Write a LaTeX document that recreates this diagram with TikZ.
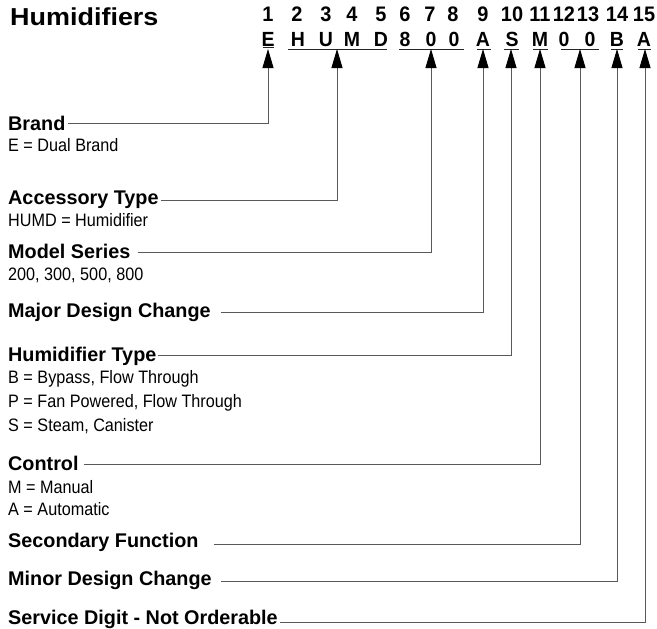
\documentclass[tikz,border=0pt]{standalone}
\usepackage{fontspec}
\setmainfont{Liberation Sans}
\newfontfamily\titlefont[FakeStretch=1.1]{Liberation Sans}
\newfontfamily\condfont[FakeStretch=0.9]{Liberation Sans}
\newfontfamily\codefont[FakeStretch=0.95]{Liberation Sans}
\usetikzlibrary{arrows.meta}

\tikzstyle{heading}=[anchor=base west,inner sep=0pt,font=\fontsize{19.8}{20}\selectfont\bfseries]
\tikzstyle{option}=[anchor=base west,inner sep=0pt,font=\fontsize{18}{18}\condfont]
\tikzstyle{digit}=[anchor=base,inner sep=0pt,font=\fontsize{21}{21}\codefont\bfseries]
\tikzstyle{code}=[anchor=base,inner sep=0pt,font=\fontsize{20.5}{21}\codefont\bfseries]
\tikzstyle{bar}=[line width=1pt,draw=black!85]
\tikzstyle{lead}=[line width=0.9pt,draw=black!65,-{Triangle[length=19pt,width=11pt,color=black]}]

\begin{document}
\begin{tikzpicture}[x=1pt,y=-1pt]
			\useasboundingbox (0,0) rectangle (657,629);
			%Title
			\node[anchor=base west,inner sep=0pt,font=\fontsize{24.5}{25}\titlefont\bfseries] (title) at (10,25) {Humidifiers};
			%Digit positions
			\foreach \x/\n in {268/1, 297/2, 326/3, 352/4, 381/5, 405/6, 430/7, 453/8,
							   483/9, 512/10, 540/11, 564/12, 588/13, 617/14, 644/15}
			\node[digit] (d\n) at (\x,21) {\n};
			%Model number
			\foreach \x/\n/\c in {268/1/E, 298/2/H, 326/3/U, 352/4/M, 381/5/D, 405/6/8, 431/7/0, 454/8/0,
								  483/9/A, 512/10/S, 540/11/M, 564/12/0, 590/13/0, 617/14/B, 644/15/A}
			\node[code] (c\n) at (\x,46) {\c};
			%Underlines and arrow tips
			\draw[bar] (263,47) -- (274,47);
			\coordinate (tbrand) at (268,49);
			\foreach \a/\b/\t/\g in {288/387/337/acc, 399/464/431/model, 477/491/483/major,
									 504/519/511/humid, 533/548/540/control, 561/599/580/second,
									 611/623/617/minor, 638/651/645/service}
			{
				\draw[bar] (\a,49) -- (\b,49);
				\coordinate (t\g) at (\t,49);
			}
			%Headings
			\foreach \y/\g/\txt in {130/brand/Brand, 204/acc/Accessory Type, 258/model/Model Series,
									317/major/Major Design Change, 361/humid/Humidifier Type,
									470/control/Control, 547/second/Secondary Function,
									585/minor/Minor Design Change, 624/service/Service Digit - Not Orderable}
			\node[heading] (\g) at (8,\y) {\txt};
			%Options
			\foreach \y/\g/\txt in {151/obrand/E = Dual Brand, 226/oacc/HUMD = Humidifier,
									280/omodel/{200, 300, 500, 800}, 383/ohumidb/{B = Bypass, Flow Through},
									407/ohumidp/{P = Fan Powered, Flow Through}, 431/ohumids/{S = Steam, Canister},
									493/ocontrolm/M = Manual, 515/ocontrola/A = Automatic}
			\node[option] (\g) at (8,\y) {\txt};
			%Leaders
			\foreach \g/\gap/\lift in {brand/2/7, acc/2/4, model/7/6, major/10/5, humid/1/6,
									   control/5/6, second/15/3, minor/9/4, service/2/2}
			\draw[lead] ([xshift=\gap pt,yshift=\lift pt]\g.base east) -| (t\g);
		\end{tikzpicture}
\end{document}
